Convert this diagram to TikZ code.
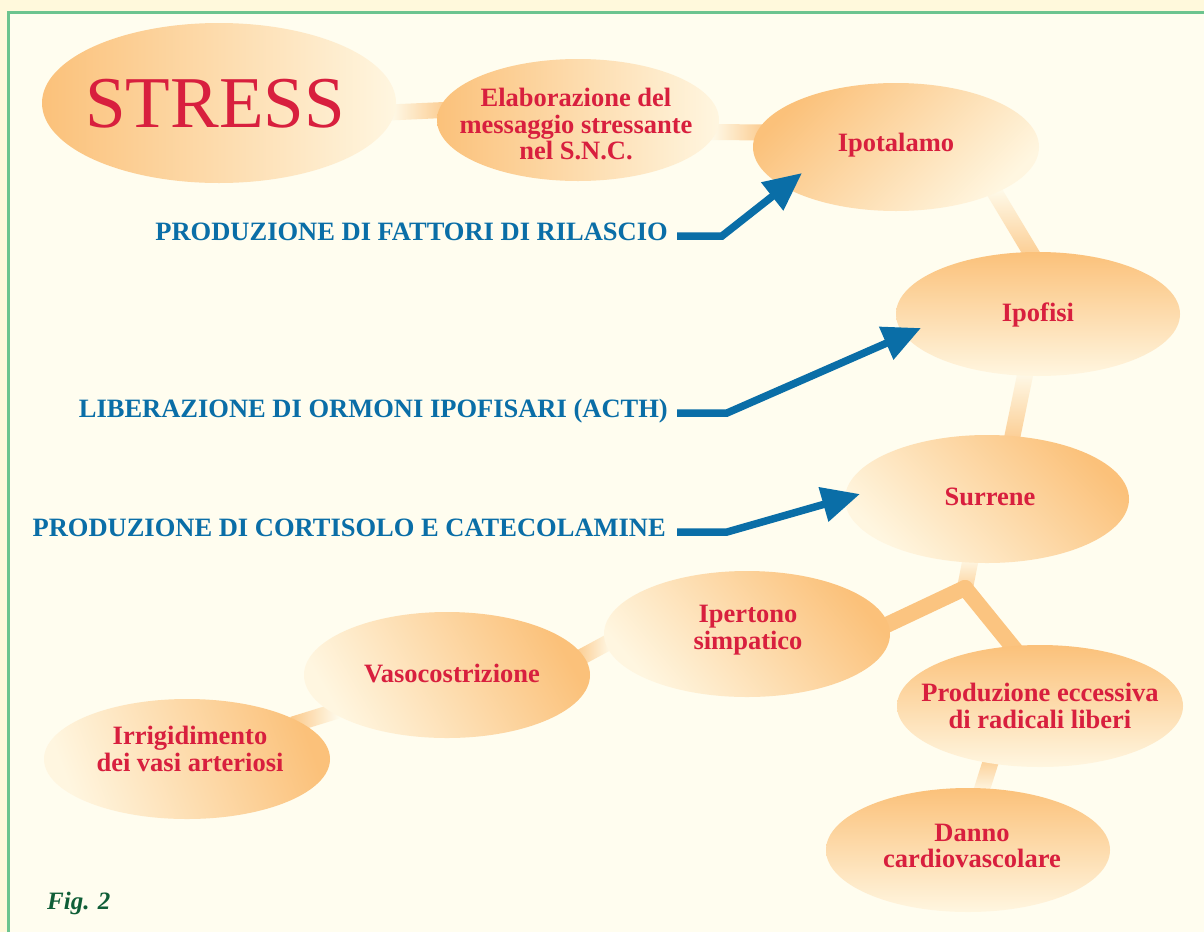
\documentclass[tikz,border=0pt]{standalone}
\usepackage{fontspec}
\setmainfont{Liberation Serif}
\usetikzlibrary{shapes.geometric,arrows.meta,calc,fadings}

\definecolor{outerbg}{HTML}{FFF9DC}
\definecolor{innerbg}{HTML}{FFFDEF}
\definecolor{framegreen}{HTML}{6CC48F}
\definecolor{blobdark}{HTML}{FBC17A}
\definecolor{bloblight}{HTML}{FFF6E0}
\definecolor{barcol}{HTML}{FCCB8E}
\definecolor{barstrong}{HTML}{FBC480}
\definecolor{stressred}{HTML}{D81F3E}
\definecolor{arrowblue}{HTML}{0A6EA7}
\definecolor{figgreen}{HTML}{0F5E37}

\pgfdeclarelayer{bg}
\pgfsetlayers{bg,main}

\begin{document}
\begin{tikzpicture}[x=1pt,y=-1pt,
  blob/.style={ellipse, draw=none, inner sep=0pt, top color=blobdark, bottom color=bloblight},
  nodetext/.style={text=stressred, font=\bfseries\fontsize{26.5}{26.5}\selectfont, align=center, inner sep=0pt},
  sidelabel/.style={text=arrowblue, font=\bfseries\fontsize{26.5}{26.5}\selectfont, anchor=base east, inner sep=0pt},
  bar/.style={line width=16pt, draw=barcol, shorten <=-8pt, shorten >=-8pt},
  forkbar/.style={line width=16pt, draw=barstrong, line cap=round, shorten >=-8pt},
  bluearrow/.style={line width=7.5pt, draw=arrowblue, -{Triangle[length=38pt,width=34pt]}}
]
\useasboundingbox (0,0) rectangle (1204,932);

% page and frame
\begin{pgfonlayer}{bg}
  \fill[outerbg] (0,0) rectangle (1204,932);
  \fill[innerbg] (8,12) rectangle (1204,932);
  \draw[framegreen, line width=3pt] (8,932) -- (8,12) -- (1204,12);
\end{pgfonlayer}

% ellipses
\node[blob, minimum width=354pt, minimum height=160pt, shading angle=90]  (stress) at (219,103) {};
\node[blob, minimum width=282pt, minimum height=122pt, shading angle=90]  (elab)   at (578,120) {};
\node[blob, minimum width=286pt, minimum height=128pt, shading angle=45]  (ipot)   at (896,147) {};
\node[blob, minimum width=284pt, minimum height=124pt, shading angle=0]   (ipof)   at (1038,314) {};
\node[blob, minimum width=284pt, minimum height=128pt, shading angle=-45] (surr)   at (987,499) {};
\node[blob, minimum width=286pt, minimum height=126pt, shading angle=-50] (ipert)  at (747,634) {};
\node[blob, minimum width=286pt, minimum height=126pt, shading angle=-60] (vaso)   at (447,675) {};
\node[blob, minimum width=286pt, minimum height=120pt, shading angle=-70] (irrig)  at (187,759) {};
\node[blob, minimum width=286pt, minimum height=122pt, shading angle=0]   (prod)   at (1040,706) {};
\node[blob, minimum width=284pt, minimum height=124pt, shading angle=0]   (danno)  at (968,850) {};

\coordinate (fork) at (965,588);

% links between the ellipses, each fading towards its lighter end
\begin{pgfonlayer}{bg}
  \draw[bar, path fading=west] (stress.-3) -- (elab.176);
  \draw[bar, path fading=west] (elab.-5) -- (ipot.174);
  \draw[bar, path fading=north] (ipot.-25) -- (ipof.97);
  \draw[bar, path fading=north] (ipof.-102) -- (surr.68);
  \draw[bar, path fading=north, shorten >=0pt, line cap=round] (surr.-105) -- (fork);
  \draw[forkbar] (fork) -- (ipert.4);
  \draw[forkbar] (fork) -- (prod.115);
  \draw[bar, path fading=east] (ipert.184) -- (vaso.8);
  \draw[bar, path fading=east] (vaso.-162) -- (irrig.18);
  \draw[bar, path fading=south] (prod.-131) -- (danno.77);
\end{pgfonlayer}

% texts in the ellipses
\node[text=stressred, font=\fontsize{73}{73}\selectfont, inner sep=0pt] (stresstext) at (215,104) {STRESS};
\node[nodetext] (elabtext)  at (576,124) {Elaborazione del\\messaggio stressante\\nel S.N.C.};
\node[nodetext] (ipottext)  at (896,145) {Ipotalamo};
\node[nodetext] (ipoftext)  at (1038,315) {Ipofisi};
\node[nodetext] (surrtext)  at (990,497) {Surrene};
\node[nodetext] (iperttext) at (748,630) {Ipertono\\simpatico};
\node[nodetext] (vasotext)  at (452,673) {Vasocostrizione};
\node[nodetext] (irrigtext) at (190,749) {Irrigidimento\\dei vasi arteriosi};
\node[nodetext] (prodtext)  at (1040,706) {Produzione eccessiva\\di radicali liberi};
\node[nodetext] (dannotext) at (972,846) {Danno\\cardiovascolare};

% side labels and their arrows
\node[sidelabel] (lab1) at (668,240) {PRODUZIONE DI FATTORI DI RILASCIO};
\node[sidelabel] (lab2) at (668,417) {LIBERAZIONE DI ORMONI IPOFISARI (ACTH)};
\node[sidelabel] (lab3) at (666,536) {PRODUZIONE DI CORTISOLO E CATECOLAMINE};

\coordinate (k1) at (722,236); \coordinate (t1) at (802,173);
\coordinate (k2) at (727,413); \coordinate (t2) at (921,328);
\coordinate (k3) at (727,532); \coordinate (t3) at (860,494);

\draw[bluearrow] ([xshift=9pt,yshift=4pt]lab1.base east) -- (k1) -- (t1);
\draw[bluearrow] ([xshift=9pt,yshift=4pt]lab2.base east) -- (k2) -- (t2);
\draw[bluearrow] ([xshift=11pt,yshift=4pt]lab3.base east) -- (k3) -- (t3);

% caption
\node[anchor=base west, inner sep=0pt, text=figgreen, font=\bfseries\itshape\fontsize{25}{25}\selectfont] (figlabel) at (47,909) {Fig. 2};
\end{tikzpicture}
\end{document}
